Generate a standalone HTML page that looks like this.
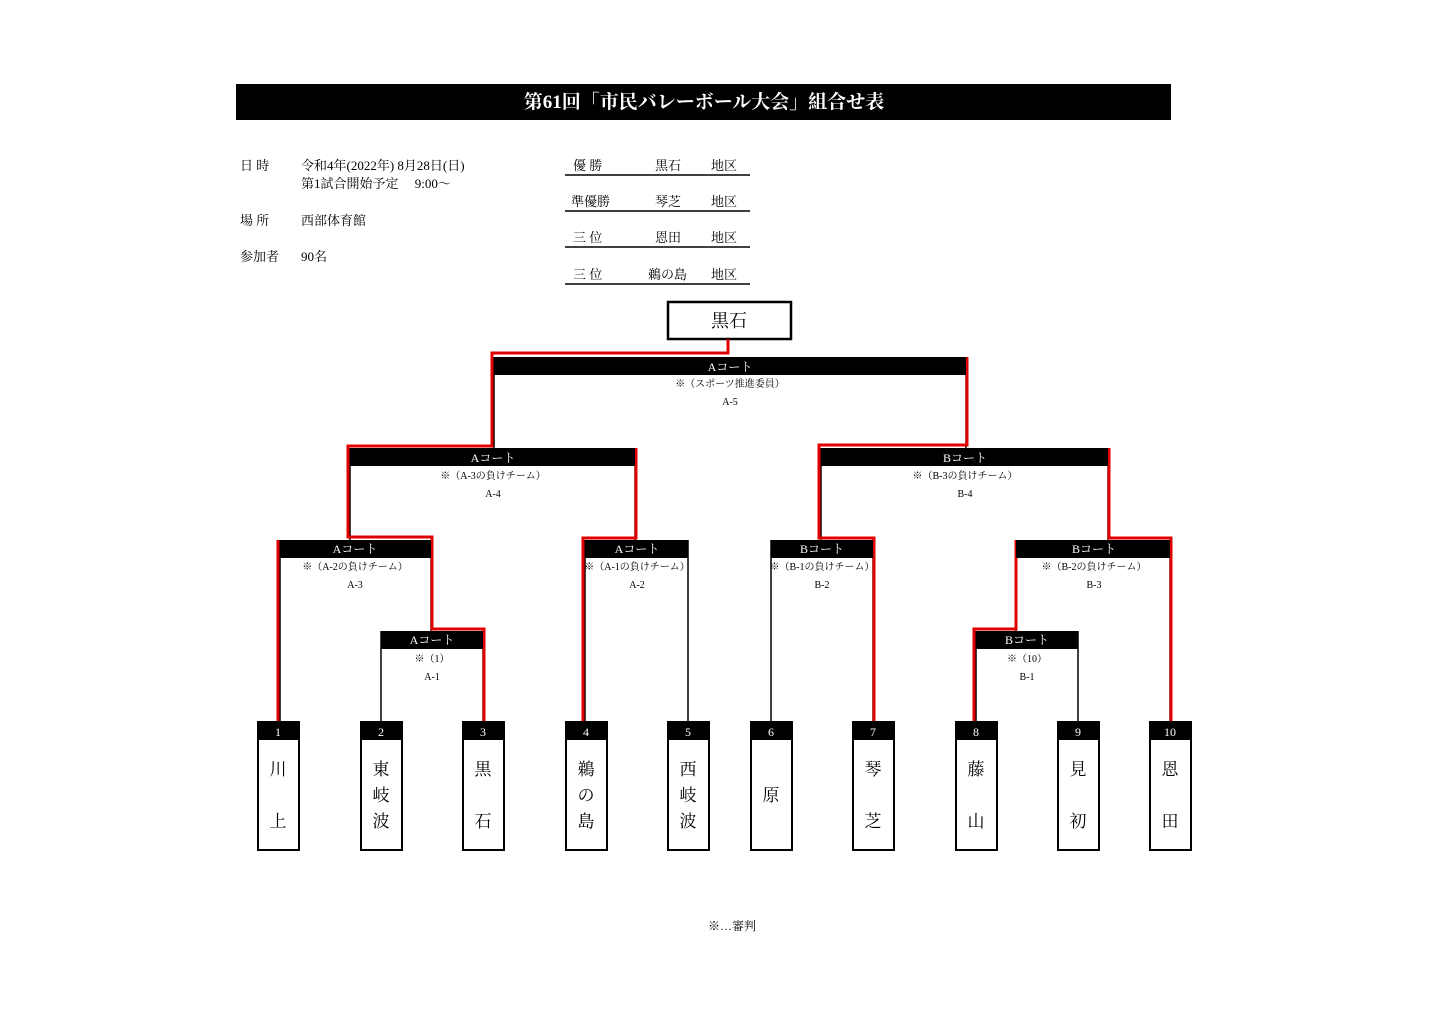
<!DOCTYPE html>
<html><head><meta charset="utf-8"><style>
html,body{margin:0;padding:0;background:#fff;}
svg{display:block;}
text{font-family:"Liberation Serif","Noto Serif CJK SC",serif;}
</style></head><body>
<svg width="1440" height="1018" viewBox="0 0 1440 1018" xmlns="http://www.w3.org/2000/svg">
<rect x="0" y="0" width="1440" height="1018" fill="#fff"/>
<!-- title -->
<rect x="236" y="84" width="935" height="36" fill="#000"/>
<text x="704" y="108" font-size="19" font-weight="bold" fill="#fff" text-anchor="middle">第61回「市民バレーボール大会」組合せ表</text>
<!-- info -->
<g font-size="13" fill="#000">
<text x="240" y="170">日 時</text>
<text x="301" y="170">令和4年(2022年) 8月28日(日)</text>
<text x="301" y="188">第1試合開始予定　 9:00～</text>
<text x="240" y="225">場 所</text>
<text x="301" y="225">西部体育館</text>
<text x="240" y="261">参加者</text>
<text x="301" y="261">90名</text>
<text x="573" y="170">優 勝</text><text x="655" y="170">黒石</text><text x="711" y="170">地区</text>
<text x="571" y="206">準優勝</text><text x="655" y="206">琴芝</text><text x="711" y="206">地区</text>
<text x="573" y="242">三 位</text><text x="655" y="242">恩田</text><text x="711" y="242">地区</text>
<text x="573" y="279">三 位</text><text x="648" y="279">鵜の島</text><text x="711" y="279">地区</text>
</g>
<g stroke="#000" stroke-width="1.5">
<line x1="565" y1="175" x2="750" y2="175"/>
<line x1="565" y1="211" x2="750" y2="211"/>
<line x1="565" y1="247" x2="750" y2="247"/>
<line x1="565" y1="284" x2="750" y2="284"/>
</g>
<!-- champion -->
<rect x="668" y="302" width="123" height="37" fill="#fff" stroke="#000" stroke-width="2.5"/>
<text x="729" y="327" font-size="18" text-anchor="middle">黒石</text>

<!-- black connector lines -->
<g stroke="#000" stroke-width="1.5" fill="none">
<line x1="494" y1="357" x2="494" y2="448"/><line x1="966" y1="357" x2="966" y2="448"/>
<line x1="350" y1="448" x2="350" y2="540"/><line x1="635" y1="448" x2="635" y2="540"/>
<line x1="821" y1="448" x2="821" y2="540"/><line x1="1108" y1="448" x2="1108" y2="540"/>
<line x1="280" y1="540" x2="280" y2="722"/><line x1="431" y1="540" x2="431" y2="631"/>
<line x1="585" y1="540" x2="585" y2="722"/><line x1="688" y1="540" x2="688" y2="722"/>
<line x1="771" y1="540" x2="771" y2="722"/><line x1="873" y1="540" x2="873" y2="722"/>
<line x1="1016" y1="540" x2="1016" y2="631"/><line x1="1170" y1="540" x2="1170" y2="722"/>
<line x1="381" y1="631" x2="381" y2="722"/><line x1="483" y1="631" x2="483" y2="722"/>
<line x1="976" y1="631" x2="976" y2="722"/><line x1="1078" y1="631" x2="1078" y2="722"/>
</g>
<!-- red winner paths -->
<g stroke="#e00000" stroke-width="3" fill="none" stroke-linejoin="miter">
<polyline points="728,339 728,353 492,353 492,446 348,446 348,537 432,537 432,629 484,629 484,722"/>
<polyline points="278,540 278,722"/>
<polyline points="636,448 636,538 583,538 583,722"/>
<polyline points="967,357 967,445 819,445 819,538 874,538 874,722"/>
<polyline points="1109,448 1109,538 1171,538 1171,722"/>
<polyline points="1016,540 1016,629 974,629 974,722"/>
</g>

<!-- match bars -->
<g fill="#000">
<rect x="494" y="357" width="472" height="18"/>
<rect x="350" y="448" width="285" height="18"/>
<rect x="821" y="448" width="287" height="18"/>
<rect x="280" y="540" width="151" height="18"/>
<rect x="585" y="540" width="103" height="18"/>
<rect x="771" y="540" width="102" height="18"/>
<rect x="1016" y="540" width="154" height="18"/>
<rect x="381" y="631" width="102" height="18"/>
<rect x="976" y="631" width="102" height="18"/>
</g>
<g font-size="12" fill="#fff" text-anchor="middle">
<text x="730" y="371">Aコート</text>
<text x="493" y="462">Aコート</text>
<text x="965" y="462">Bコート</text>
<text x="355" y="553">Aコート</text>
<text x="637" y="553">Aコート</text>
<text x="822" y="553">Bコート</text>
<text x="1094" y="553">Bコート</text>
<text x="432" y="644">Aコート</text>
<text x="1027" y="644">Bコート</text>
</g>
<g font-size="10" fill="#000" text-anchor="middle">
<text x="730" y="387">※（スポーツ推進委員）</text><text x="730" y="405">A-5</text>
<text x="493" y="479">※（A-3の負けチーム）</text><text x="493" y="497">A-4</text>
<text x="965" y="479">※（B-3の負けチーム）</text><text x="965" y="497">B-4</text>
<text x="355" y="570">※（A-2の負けチーム）</text><text x="355" y="588">A-3</text>
<text x="637" y="570">※（A-1の負けチーム）</text><text x="637" y="588">A-2</text>
<text x="822" y="570">※（B-1の負けチーム）</text><text x="822" y="588">B-2</text>
<text x="1094" y="570">※（B-2の負けチーム）</text><text x="1094" y="588">B-3</text>
<text x="432" y="662">※（1）</text><text x="432" y="680">A-1</text>
<text x="1027" y="662">※（10）</text><text x="1027" y="680">B-1</text>
</g>

<!-- team boxes -->
<g>
<g transform="translate(278,0)"><rect x="-20" y="722" width="41" height="128" fill="#fff" stroke="#000" stroke-width="2"/><rect x="-20" y="722" width="41" height="18" fill="#000"/><text y="736" font-size="12" fill="#fff" text-anchor="middle">1</text><text y="775" font-size="17" text-anchor="middle">川</text><text y="827" font-size="17" text-anchor="middle">上</text></g>
<g transform="translate(381,0)"><rect x="-20" y="722" width="41" height="128" fill="#fff" stroke="#000" stroke-width="2"/><rect x="-20" y="722" width="41" height="18" fill="#000"/><text y="736" font-size="12" fill="#fff" text-anchor="middle">2</text><text y="775" font-size="17" text-anchor="middle">東</text><text y="801" font-size="17" text-anchor="middle">岐</text><text y="827" font-size="17" text-anchor="middle">波</text></g>
<g transform="translate(483,0)"><rect x="-20" y="722" width="41" height="128" fill="#fff" stroke="#000" stroke-width="2"/><rect x="-20" y="722" width="41" height="18" fill="#000"/><text y="736" font-size="12" fill="#fff" text-anchor="middle">3</text><text y="775" font-size="17" text-anchor="middle">黒</text><text y="827" font-size="17" text-anchor="middle">石</text></g>
<g transform="translate(586,0)"><rect x="-20" y="722" width="41" height="128" fill="#fff" stroke="#000" stroke-width="2"/><rect x="-20" y="722" width="41" height="18" fill="#000"/><text y="736" font-size="12" fill="#fff" text-anchor="middle">4</text><text y="775" font-size="17" text-anchor="middle">鵜</text><text y="801" font-size="17" text-anchor="middle">の</text><text y="827" font-size="17" text-anchor="middle">島</text></g>
<g transform="translate(688,0)"><rect x="-20" y="722" width="41" height="128" fill="#fff" stroke="#000" stroke-width="2"/><rect x="-20" y="722" width="41" height="18" fill="#000"/><text y="736" font-size="12" fill="#fff" text-anchor="middle">5</text><text y="775" font-size="17" text-anchor="middle">西</text><text y="801" font-size="17" text-anchor="middle">岐</text><text y="827" font-size="17" text-anchor="middle">波</text></g>
<g transform="translate(771,0)"><rect x="-20" y="722" width="41" height="128" fill="#fff" stroke="#000" stroke-width="2"/><rect x="-20" y="722" width="41" height="18" fill="#000"/><text y="736" font-size="12" fill="#fff" text-anchor="middle">6</text><text y="801" font-size="17" text-anchor="middle">原</text></g>
<g transform="translate(873,0)"><rect x="-20" y="722" width="41" height="128" fill="#fff" stroke="#000" stroke-width="2"/><rect x="-20" y="722" width="41" height="18" fill="#000"/><text y="736" font-size="12" fill="#fff" text-anchor="middle">7</text><text y="775" font-size="17" text-anchor="middle">琴</text><text y="827" font-size="17" text-anchor="middle">芝</text></g>
<g transform="translate(976,0)"><rect x="-20" y="722" width="41" height="128" fill="#fff" stroke="#000" stroke-width="2"/><rect x="-20" y="722" width="41" height="18" fill="#000"/><text y="736" font-size="12" fill="#fff" text-anchor="middle">8</text><text y="775" font-size="17" text-anchor="middle">藤</text><text y="827" font-size="17" text-anchor="middle">山</text></g>
<g transform="translate(1078,0)"><rect x="-20" y="722" width="41" height="128" fill="#fff" stroke="#000" stroke-width="2"/><rect x="-20" y="722" width="41" height="18" fill="#000"/><text y="736" font-size="12" fill="#fff" text-anchor="middle">9</text><text y="775" font-size="17" text-anchor="middle">見</text><text y="827" font-size="17" text-anchor="middle">初</text></g>
<g transform="translate(1170,0)"><rect x="-20" y="722" width="41" height="128" fill="#fff" stroke="#000" stroke-width="2"/><rect x="-20" y="722" width="41" height="18" fill="#000"/><text y="736" font-size="12" fill="#fff" text-anchor="middle">10</text><text y="775" font-size="17" text-anchor="middle">恩</text><text y="827" font-size="17" text-anchor="middle">田</text></g>
</g>

<text x="732" y="930" font-size="12" text-anchor="middle">※…審判</text>
</svg>
</body></html>
